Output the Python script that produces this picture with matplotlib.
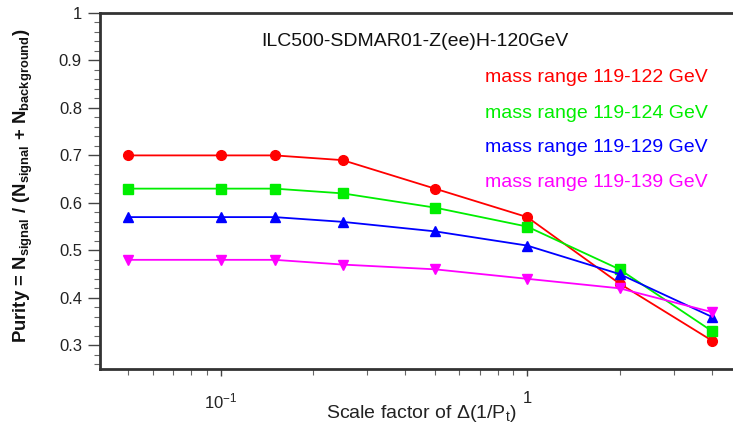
import matplotlib
matplotlib.use("Agg")
import matplotlib.pyplot as plt
from matplotlib.ticker import FixedLocator, FixedFormatter, MultipleLocator, NullFormatter

plt.rcParams['font.family'] = ['Liberation Sans', 'DejaVu Sans']
plt.rcParams['mathtext.fontset'] = 'custom'
plt.rcParams['mathtext.rm'] = 'Liberation Sans'
plt.rcParams['mathtext.it'] = 'Liberation Sans'
plt.rcParams['mathtext.bf'] = 'Liberation Sans:bold'

scale = [0.05, 0.1, 0.15, 0.25, 0.5, 1, 2, 4]
purity_122 = [0.70, 0.70, 0.70, 0.69, 0.63, 0.57, 0.43, 0.31]
purity_124 = [0.63, 0.63, 0.63, 0.62, 0.59, 0.55, 0.46, 0.33]
purity_129 = [0.57, 0.57, 0.57, 0.56, 0.54, 0.51, 0.45, 0.36]
purity_139 = [0.48, 0.48, 0.48, 0.47, 0.46, 0.44, 0.42, 0.37]
labels = ["mass range 119-122 GeV", "mass range 119-124 GeV",
          "mass range 119-129 GeV", "mass range 119-139 GeV"]
colors = ["#ff0000", "#00ee00", "#0000ff", "#ff00ff"]
markers = ["o", "s", "^", "v"]
title = "ILC500-SDMAR01-Z(ee)H-120GeV"

fig = plt.figure(figsize=(7.33, 4.28), dpi=100)
ax = fig.add_axes([100/733, 1-369/428, 1-100/733, (369-13)/428])

series = [purity_122, purity_124, purity_129, purity_139]
for ys, c, m in zip(series, colors, markers):
    ax.plot(scale, ys, color=c, marker=m, markersize=7, linewidth=1.3,
            markeredgecolor=c, clip_on=False, zorder=3)

ax.set_xscale('log')
ax.set_xlim(0.0404, 4.69)
ax.set_ylim(0.25, 1.0)

ax.xaxis.set_major_locator(FixedLocator([0.1, 1]))
ax.xaxis.set_major_formatter(FixedFormatter(['$10^{-1}$', '1']))
minor_x = [0.05, 0.06, 0.07, 0.08, 0.09, 0.2, 0.3, 0.4, 0.5, 0.6, 0.7, 0.8, 0.9, 2, 3, 4]
ax.xaxis.set_minor_locator(FixedLocator(minor_x))
ax.xaxis.set_minor_formatter(NullFormatter())

ax.yaxis.set_major_locator(FixedLocator([0.3, 0.4, 0.5, 0.6, 0.7, 0.8, 0.9, 1.0]))
ax.yaxis.set_major_formatter(FixedFormatter(['0.3', '0.4', '0.5', '0.6', '0.7', '0.8', '0.9', '1']))
ax.yaxis.set_minor_locator(MultipleLocator(0.02))

ax.tick_params(axis='both', which='major', direction='out', length=9, width=1,
               color='#444444', labelsize=12, labelcolor='#222222', pad=4)
ax.tick_params(axis='both', which='minor', direction='out', length=4.5, width=0.8,
               color='#666666')
ax.tick_params(axis='x', which='major', length=5, pad=11)

for s in ['top', 'left', 'bottom']:
    ax.spines[s].set_linewidth(2)
    ax.spines[s].set_color('#333333')
ax.spines['right'].set_visible(False)

ax.set_xlabel(r'Scale factor of $\Delta$(1/P$_\mathregular{t}$)', fontsize=14, color='#222222')
ax.set_ylabel(r'Purity = N$_\mathbf{signal}$ / (N$_\mathbf{signal}$ + N$_\mathbf{background}$)',
              fontsize=13.3, fontweight='bold', color='#111111')
ax.xaxis.set_label_coords((421-100)/633, -0.095)
ax.yaxis.set_label_coords(-65/633, 1-(186-13)/356)

ax.text((415-100)/633, 1-(42-13)/356, title, transform=ax.transAxes,
        ha='center', va='center', fontsize=14, color='#111111')
ys_text = [78, 113, 148, 183]
for lab, c, yt in zip(labels, colors, ys_text):
    ax.text((485-100)/633, 1-(yt-13)/356, lab, transform=ax.transAxes,
            ha='left', va='center', fontsize=14, color=c)

fig.savefig('out.png', dpi=100)
